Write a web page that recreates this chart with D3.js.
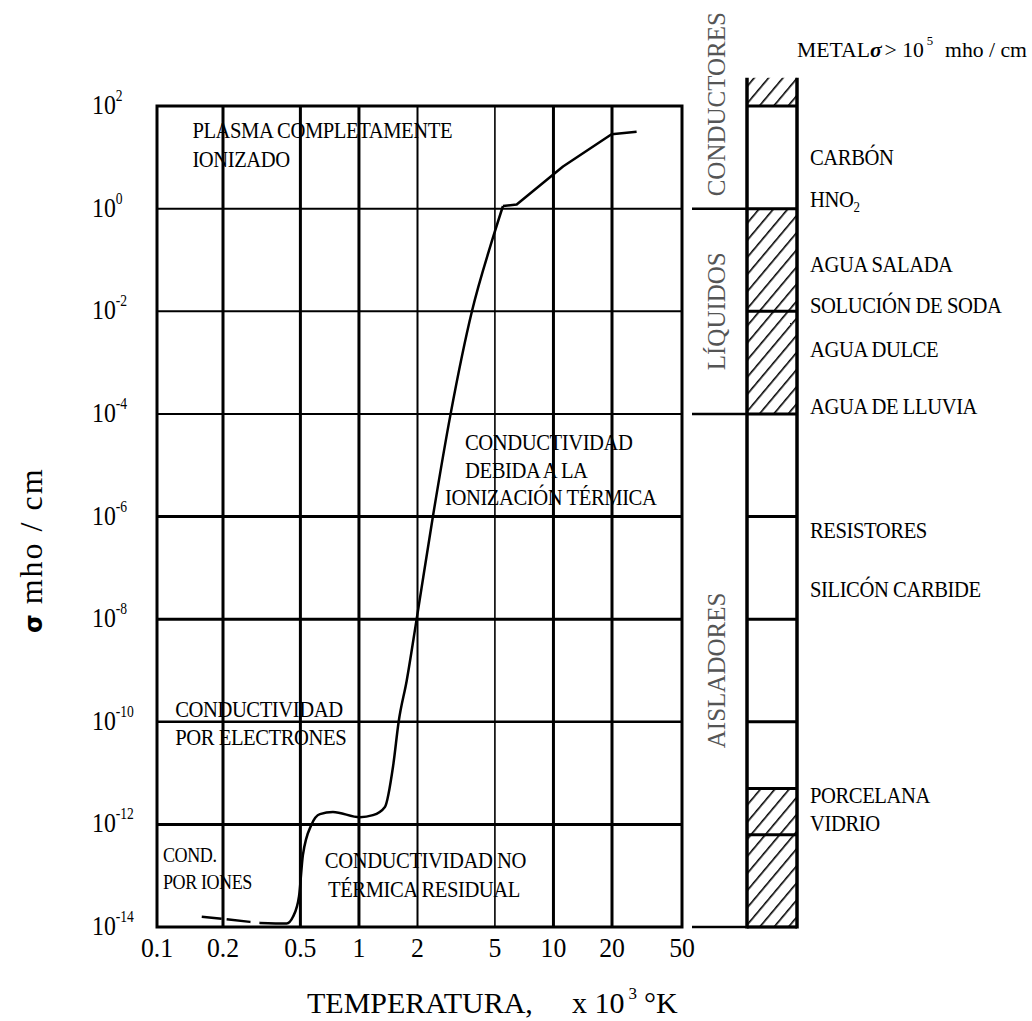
<!DOCTYPE html>
<html lang="es">
<head>
<meta charset="UTF-8">
<title>Conductividad en función de la temperatura</title>
<script src="https://d3js.org/d3.v7.min.js"></script>
<style>
  body { margin: 0; background: #fff; }
  svg { display: block; font-family: "Liberation Serif", "Times New Roman", serif; }
</style>
</head>
<body>
<div id="chart"></div>
<script>
// axis ticks: temperature (x 10^3 K) and decades of sigma (mho/cm)
const tempTicks = [0.1, 0.2, 0.5, 1, 2, 5, 10, 20, 50];
const sigmaExp = [2, 0, -2, -4, -6, -8, -10, -12, -14];

// curve, T in 10^3 K and log10 of sigma
// first stretch is the dashed (ionic) part
const ionTemp = [0.16, 0.2, 0.275, 0.31];
const ionLogSigma = [-13.8, -13.84, -13.9, -13.92];
const curveTemp = [0.31, 0.425, 0.458, 0.492, 0.515, 0.571, 0.63, 0.735, 1.01, 1.18, 1.36, 1.5, 1.6, 1.76,
                   1.98, 2.4, 2.96, 3.81, 4.81, 5.5, 6.47, 11.2, 19.9, 27.6];
const curveLogSigma = [-13.92, -13.93, -13.8, -13.4, -12.6, -12.0, -11.8, -11.76, -11.86, -11.82, -11.66, -10.85, -10.0, -9.2,
                       -8.0, -6.0, -4.0, -2.0, -0.65, 0.05, 0.08, 0.82, 1.45, 1.5];

// notes inside the plot (anchor in T and log10 sigma)
const noteText = ["PLASMA COMPLETAMENTE", "IONIZADO", "CONDUCTIVIDAD", "DEBIDA A LA", "IONIZACIÓN TÉRMICA",
                  "CONDUCTIVIDAD", "POR ELECTRONES", "COND.", "POR IONES", "CONDUCTIVIDAD NO", "TÉRMICA RESIDUAL"];
const noteTemp = [0.145, 0.145, 3.51, 3.51, 2.77, 0.121, 0.121, 0.1065, 0.1065, 0.668, 0.693];
const noteLogSigma = [1.38, 0.81, -4.70, -5.25, -5.78, -9.91, -10.45, -12.74, -13.25, -12.85, -13.42];

// material bar: cell edges in log10 sigma, and which cells are hatched
const barEdges = [2.55, 2, 0, -2, -4, -6, -8, -10, -11.3, -12.2, -14];
const barHatched = [true, false, true, true, false, false, false, false, true, true];

// class column (the top edge is the page top)
const classNames = ["CONDUCTORES", "LÍQUIDOS", "AISLADORES"];
const classEdges = [4.07, 0, -4, -14];

// material names, baseline at log10 sigma
const materialNames = ["CARBÓN", "HNO₂", "AGUA SALADA", "SOLUCIÓN DE SODA", "AGUA DULCE", "AGUA DE LLUVIA",
                       "RESISTORES", "SILICÓN CARBIDE", "PORCELANA", "VIDRIO"];
const materialLogSigma = [0.85, 0.03, -1.24, -2.03, -2.89, -4.0, -6.42, -7.57, -11.58, -12.13];

const W = 1032, H = 1021;
const svg = d3.select("#chart").append("svg").attr("width", W).attr("height", H);

// the printed temperature axis is not a perfect log axis, so piecewise log
const x = d3.scaleLog().domain([0.1, 0.2, 20, 50]).range([157, 223, 612, 682]);
const y = d3.scaleLinear().domain([-14, 2]).range([927, 106]);

// hatch pattern
svg.append("defs").append("pattern")
    .attr("id", "hatch")
    .attr("patternUnits", "userSpaceOnUse")
    .attr("width", 11).attr("height", 11)
    .attr("patternTransform", "rotate(40)")
    .append("line")
    .attr("x1", 0).attr("y1", 0).attr("x2", 0).attr("y2", 11)
    .attr("stroke", "#000").attr("stroke-width", 3.2);

// grid
const grid = svg.append("g").attr("stroke", "#000").attr("fill", "none");
const xWidth = t => (t === 2 ? 2 : t === 5 ? 1.6 : 3);
const yWidth = e => (e >= -4 ? 2 : e === -10 ? 2.5 : 3);

grid.selectAll("line.vx")
    .data(tempTicks.slice(1, -1))
    .join("line")
    .attr("class", "vx")
    .attr("x1", d => x(d)).attr("x2", d => x(d))
    .attr("y1", y(2)).attr("y2", y(-14))
    .attr("stroke-width", xWidth);

grid.selectAll("line.hy")
    .data(sigmaExp.slice(1, -1))
    .join("line")
    .attr("class", "hy")
    .attr("x1", x(0.1)).attr("x2", x(50))
    .attr("y1", d => y(d)).attr("y2", d => y(d))
    .attr("stroke-width", yWidth);

grid.append("rect")
    .attr("x", x(0.1)).attr("y", y(2))
    .attr("width", x(50) - x(0.1)).attr("height", y(-14) - y(2))
    .attr("stroke-width", 3);

// curve: dashed ionic part, smooth rise, then straight pieces above the knee
const line = d3.line()
    .x(d => x(d[0]))
    .y(d => y(d[1]));

const pts = d3.zip(curveTemp, curveLogSigma);
const knee = curveTemp.indexOf(5.5);
const curveStyle = p => p.attr("fill", "none").attr("stroke", "#000").attr("stroke-width", 2.5);

svg.append("path")
    .datum(d3.zip(ionTemp, ionLogSigma))
    .attr("d", line)
    .call(curveStyle)
    .attr("stroke-dasharray", "20,5,24,9");

svg.append("path")
    .datum(pts.slice(0, knee + 1))
    .attr("d", line.curve(d3.curveMonotoneX))
    .call(curveStyle);

svg.append("path")
    .datum(pts.slice(knee))
    .attr("d", line.curve(d3.curveLinear))
    .call(curveStyle)
    .attr("stroke-linejoin", "round");

// tick labels
svg.append("g").selectAll("text")
    .data(tempTicks)
    .join("text")
    .attr("transform", d => `translate(${x(d)},957) scale(0.92,1)`)
    .attr("text-anchor", "middle")
    .attr("font-size", 28)
    .text(d => String(d));

const yl = svg.append("g").selectAll("text")
    .data(sigmaExp)
    .join("text")
    .attr("transform", d => `translate(92,${y(d) + 8}) scale(0.85,1)`)
    .attr("font-size", 28);
yl.append("tspan").text("10");
yl.append("tspan").attr("font-size", 16).attr("dy", -13).text(d => String(d));

// notes
const condensed = (sel, size) => sel
    .attr("font-size", size)
    .style("letter-spacing", "-0.5px");

svg.append("g").selectAll("text")
    .data(d3.range(noteText.length))
    .join("text")
    .attr("transform", i => `translate(${x(noteTemp[i])},${y(noteLogSigma[i])}) scale(0.86,1)`)
    .call(condensed, 24)
    .attr("font-size", i => (noteText[i] === "COND." || noteText[i] === "POR IONES" ? 21 : 24))
    .text(i => noteText[i]);

// axis titles
const title = svg.append("text").attr("y", 1013).attr("font-size", 30);
title.append("tspan").attr("x", 307).text("TEMPERATURA,");
title.append("tspan").attr("x", 572).text("x 10");
title.append("tspan").attr("font-size", 17).attr("dx", 4).attr("dy", -14).text("3");
title.append("tspan").attr("dx", 7).attr("dy", 14).text("°K");

const ylab = svg.append("text").attr("transform", "translate(42,633) rotate(-90)");
ylab.append("tspan")
    .attr("font-family", "DejaVu Sans").attr("font-weight", "bold").attr("font-size", 24)
    .text("σ");
ylab.append("tspan").attr("dx", 10).attr("font-size", 32).style("letter-spacing", "2px").text("mho / cm");

// right panel: class column
const colX0 = 692, barX0 = 747, barX1 = 797;
const side = svg.append("g").attr("stroke", "#000").attr("fill", "none");

side.selectAll("line.cls")
    .data(classEdges.slice(1, -1))
    .join("line")
    .attr("class", "cls")
    .attr("x1", colX0).attr("x2", barX0)
    .attr("y1", d => y(d)).attr("y2", d => y(d))
    .attr("stroke-width", 2.5);

side.append("line")
    .attr("x1", colX0).attr("x2", barX1)
    .attr("y1", y(-14)).attr("y2", y(-14))
    .attr("stroke-width", 2.5);

svg.append("g").selectAll("text")
    .data(classNames)
    .join("text")
    .attr("transform", (d, i) => `translate(725,${(y(classEdges[i]) + y(classEdges[i + 1])) / 2}) rotate(-90)`)
    .attr("text-anchor", "middle")
    .attr("font-size", 25)
    .attr("fill", "#555")
    .text(d => d);

// material bar
const cells = d3.range(barHatched.length).filter(i => barHatched[i]);
svg.append("g").selectAll("rect")
    .data(cells)
    .join("rect")
    .attr("x", barX0).attr("width", barX1 - barX0)
    .attr("y", i => y(barEdges[i]))
    .attr("height", i => y(barEdges[i + 1]) - y(barEdges[i]))
    .attr("fill", "url(#hatch)");

side.selectAll("line.bar")
    .data(barEdges.slice(1))
    .join("line")
    .attr("class", "bar")
    .attr("x1", barX0).attr("x2", barX1)
    .attr("y1", d => y(d)).attr("y2", d => y(d))
    .attr("stroke-width", 3);

side.selectAll("line.barside")
    .data([barX0, barX1])
    .join("line")
    .attr("class", "barside")
    .attr("x1", d => d).attr("x2", d => d)
    .attr("y1", y(barEdges[0])).attr("y2", y(-14) + 1.5)
    .attr("stroke-width", 3.5);

// material labels
const mat = svg.append("g").selectAll("text")
    .data(materialNames)
    .join("text")
    .attr("transform", (d, i) => `translate(810,${y(materialLogSigma[i])}) scale(0.86,1)`)
    .call(condensed, 24);
mat.each(function (d) {
    const t = d3.select(this);
    if (d.includes("₂")) {
        t.append("tspan").text(d.replace("₂", ""));
        t.append("tspan").attr("font-size", 15).attr("dy", 5).text("2");
    } else {
        t.text(d);
    }
});

// metal note above the bar
const metal = svg.append("text")
    .attr("x", 797).attr("y", 57)
    .attr("font-size", 22)
    .attr("textLength", 230).attr("lengthAdjust", "spacingAndGlyphs");
metal.append("tspan").text("METAL");
metal.append("tspan").attr("font-weight", "bold").attr("font-style", "italic").text("σ");
metal.append("tspan").attr("dx", 3).text("> 10");
metal.append("tspan").attr("font-size", 13).attr("dx", 3).attr("dy", -12).text("5");
metal.append("tspan").attr("dx", 12).attr("dy", 12).text("mho / cm");
</script>
</body>
</html>
